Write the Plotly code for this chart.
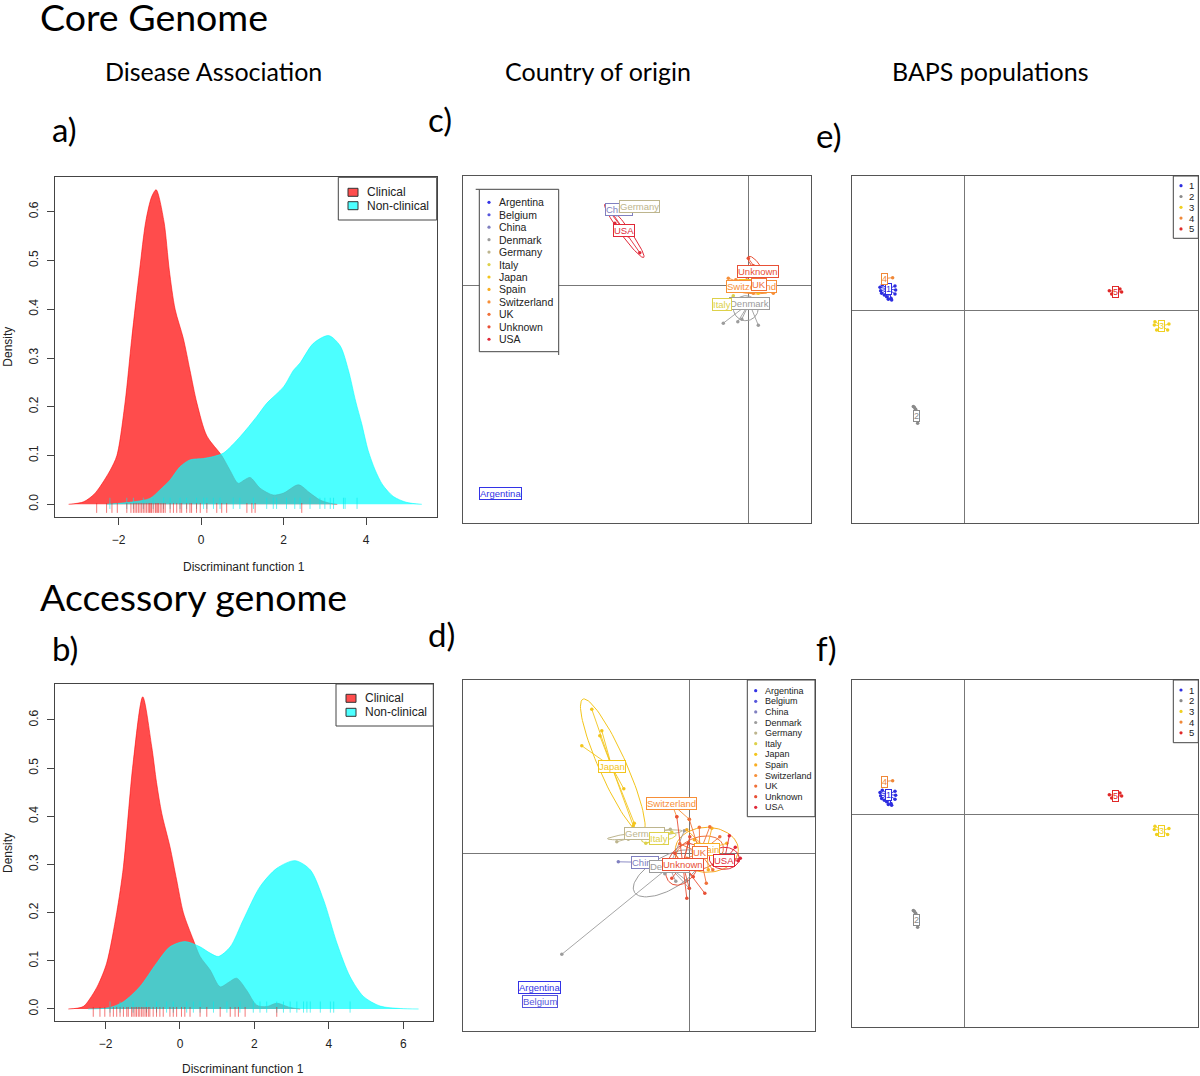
import numpy as np
import plotly.graph_objects as go

W, H = 1200, 1076

# ---------------- Data ----------------
# Panel a: core genome, density of discriminant function 1
a_clin_x = [-3.21, -2.85, -2.6, -2.45, -2.2, -2.04, -1.84, -1.68, -1.49, -1.34, -1.2, -1.09, -0.9, -0.77, -0.63,
            -0.43, -0.27, -0.1, 0.14, 0.5, 0.7, 0.9, 1.05, 1.19, 1.43, 1.75, 2.0, 2.36, 2.64, 2.88, 3.13, 3.3]
a_clin_y = [0, 0.005, 0.02, 0.036, 0.07, 0.1, 0.21, 0.34, 0.48, 0.58, 0.63, 0.645, 0.58, 0.48, 0.4,
            0.34, 0.275, 0.207, 0.14, 0.1, 0.07, 0.043, 0.05, 0.055, 0.033, 0.019, 0.023, 0.04, 0.023, 0.009, 0.002, 0]
a_non_x = [-2.29, -1.64, -1.24, -0.99, -0.75, -0.51, -0.27, 0.06, 0.3, 0.54, 0.95, 1.35, 1.59, 2.0, 2.24, 2.4,
           2.72, 3.09, 3.37, 3.57, 3.75, 3.89, 4.05, 4.22, 4.4, 4.66, 4.98, 5.35]
a_non_y = [0, 0.005, 0.012, 0.03, 0.05, 0.077, 0.091, 0.094, 0.098, 0.105, 0.139, 0.18, 0.207, 0.241, 0.275, 0.29,
           0.33, 0.346, 0.325, 0.275, 0.21, 0.166, 0.11, 0.07, 0.04, 0.016, 0.004, 0]
a_rug_clin = [-2.53, -2.29, -2.16, -2.03, -1.8, -1.7, -1.64, -1.6, -1.56, -1.52, -1.48, -1.44, -1.4, -1.36, -1.32,
              -1.28, -1.25, -1.22, -1.2, -1.16, -1.11, -1.09, -1.06, -1.03, -0.99, -0.95, -0.91, -0.87, -0.75,
              -0.67, -0.59, -0.51, -0.47, -0.35, -0.27, -0.23, -0.11, -0.02, 0.14, 0.38, 0.5, 0.62, 1.11, 1.23,
              1.31, 2.44]
a_rug_non = [-2.21, -1.8, -1.64, -1.4, -1.16, -0.91, -0.75, -0.51, -0.35, -0.11, 0.06, 0.14, 0.3, 0.46, 0.78,
             0.94, 1.27, 1.59, 1.75, 1.83, 2.07, 2.27, 2.4, 2.64, 2.88, 3.0, 3.13, 3.21, 3.45, 3.49, 3.78]

# Panel b: accessory genome
b_clin_x = [-3.0, -2.6, -2.38, -2.2, -1.97, -1.7, -1.52, -1.26, -1.0, -0.76, -0.63, -0.49, -0.27, -0.09, 0.09,
            0.36, 0.54, 0.81, 1.08, 1.3, 1.52, 1.79, 2.06, 2.33, 2.6, 2.96, 3.23]
b_clin_y = [0, 0.005, 0.026, 0.05, 0.095, 0.2, 0.295, 0.51, 0.648, 0.545, 0.47, 0.406, 0.337, 0.268, 0.2,
            0.143, 0.109, 0.081, 0.046, 0.055, 0.064, 0.039, 0.008, 0.005, 0.012, 0.003, 0]
b_non_x = [-2.47, -1.88, -1.52, -1.08, -0.63, -0.27, 0.13, 0.54, 0.81, 1.03, 1.35, 1.7, 2.15, 2.6, 3.09, 3.5,
           3.86, 4.22, 4.57, 4.93, 5.38, 5.92, 6.41]
b_non_y = [0, 0.003, 0.015, 0.046, 0.095, 0.129, 0.14, 0.129, 0.116, 0.109, 0.129, 0.185, 0.254, 0.292, 0.308,
           0.289, 0.226, 0.136, 0.067, 0.026, 0.006, 0.001, 0]
b_rug_clin = [-2.33, -2.15, -2.02, -1.88, -1.79, -1.7, -1.61, -1.52, -1.43, -1.39, -1.3, -1.26, -1.21, -1.17,
              -1.12, -1.08, -1.03, -0.99, -0.94, -0.9, -0.85, -0.81, -0.72, -0.63, -0.54, -0.45, -0.27, -0.18,
              -0.09, 0.04, 0.13, 0.27, 0.54, 0.72, 1.08, 1.35, 1.48, 1.57, 1.75, 2.6]
b_rug_non = [-1.88, -1.61, -1.26, -0.9, -0.63, -0.36, -0.18, 0.18, 0.36, 0.54, 0.9, 1.26, 1.61, 1.97, 2.15,
             2.33, 2.6, 2.78, 2.96, 3.14, 3.32, 3.41, 3.5, 3.77, 4.04, 4.13, 4.57]

density_legend = ["Clinical", "Non-clinical"]

# Countries and colours
countries = ["Argentina", "Belgium", "China", "Denmark", "Germany", "Italy", "Japan", "Spain",
             "Switzerland", "UK", "Unknown", "USA"]
country_colors = ["#3333e6", "#5656dc", "#8080c0", "#9c9c9c", "#bdb58e", "#ddd14a", "#f3c51c", "#f8ad22",
                  "#f78f38", "#f07038", "#e85036", "#e02838"]

# Panel c: DAPC by country (core genome) - group label positions and member points
c_label_order = ["Belgium", "Argentina", "China", "Denmark", "Germany", "Italy", "Japan", "Spain",
                 "Switzerland", "UK", "Unknown", "USA"]
c_label_pos = {"Argentina": (-4.95, -4.15), "Belgium": (-4.95, -4.15), "China": (-2.59, 1.52),
               "Denmark": (0.02, -0.35), "Germany": (-2.17, 1.59), "Italy": (-0.53, -0.37),
               "Japan": (0.1, 0.0), "Spain": (0.15, -0.02), "Switzerland": (0.07, -0.02),
               "UK": (0.21, 0.03), "Unknown": (0.19, 0.28), "USA": (-2.48, 1.1)}
c_points = {
    "Argentina": [(-4.95, -4.15)],
    "Belgium": [(-4.95, -4.15)],
    "China": [(-2.63, 1.42), (-2.55, 1.62)],
    "Denmark": [(-0.5, -0.75), (-0.21, -0.72), (-0.13, -0.67), (0.2, -0.79), (0.0, -0.3), (0.1, -0.45)],
    "Germany": [(-2.17, 1.59)],
    "Italy": [(-0.53, -0.37), (-0.3, -0.2)],
    "Japan": [(0.05, -0.05), (0.2, -0.15)],
    "Spain": [(0.2, -0.05), (-0.1, 0.05), (0.35, -0.12)],
    "Switzerland": [(-0.4, 0.15), (0.5, -0.15), (0.3, -0.1), (-0.2, -0.1), (0.1, -0.15), (-0.25, 0.12)],
    "UK": [(0.3, 0.0), (0.15, -0.1), (0.4, 0.05), (0.05, 0.08)],
    "Unknown": [(0.0, 0.55), (0.3, 0.25), (0.1, 0.4), (0.25, 0.05), (-0.1, 0.1)],
    "USA": [(-2.8, 1.57), (-2.67, 1.25), (-2.17, 0.66), (-2.75, 1.45), (-2.4, 1.0)],
}
c_ellipses = [("Denmark", -0.05, -0.45, 0.25, 0.25, 0), ("Switzerland", 0.05, -0.02, 0.45, 0.14, -5),
              ("Spain", 0.12, -0.04, 0.3, 0.1, 0), ("UK", 0.22, -0.02, 0.22, 0.09, 10),
              ("Unknown", 0.13, 0.43, 0.2, 0.07, -50), ("USA", -2.48, 1.1, 0.66, 0.09, -54)]

# Panel d: DAPC by country (accessory genome)
d_label_order = countries
d_label_pos = {"Argentina": (-2.99, -2.68), "Belgium": (-2.99, -2.97), "China": (-0.89, -0.18),
               "Denmark": (-0.4, -0.27), "Germany": (-0.89, 0.39), "Italy": (-0.61, 0.3),
               "Japan": (-1.55, 1.73), "Spain": (0.35, 0.08), "Switzerland": (-0.35, 0.99),
               "UK": (0.21, 0.01), "Unknown": (-0.13, -0.22), "USA": (0.7, -0.15)}
d_points = {
    "Argentina": [(-2.99, -2.68)],
    "Belgium": [(-2.99, -2.97)],
    "China": [(-1.42, -0.17), (-0.36, -0.19)],
    "Denmark": [(-2.55, -2.02), (-0.49, -0.41), (-0.27, -0.56), (-0.2, -0.25), (0.0, -0.7), (-0.05, -0.55),
                (-0.1, 0.45)],
    "Germany": [(-1.45, 0.23), (-1.22, 0.28), (-0.76, 0.48), (-0.38, 0.48), (-0.65, 0.47)],
    "Italy": [(-0.35, 0.42), (-0.87, 0.2), (-0.6, 0.35)],
    "Japan": [(-1.95, 2.88), (-1.75, 2.45), (-1.79, 2.35), (-2.15, 2.15), (-1.31, 1.29), (-1.12, 0.55),
              (-1.1, 0.6)],
    "Spain": [(-0.05, 0.47), (0.68, -0.07), (0.38, -0.33), (0.75, 0.2), (0.1, 0.27), (0.45, 0.5)],
    "Switzerland": [(-0.25, 0.73), (0.0, 0.68), (-0.45, 0.95)],
    "UK": [(0.2, 0.52), (0.41, 0.53), (0.61, 0.33), (0.47, -0.33), (-0.19, 0.19), (0.34, -0.6), (0.08, 0.03),
           (0.0, 0.68), (-0.05, -0.1)],
    "Unknown": [(-0.29, 0.0), (0.0, -0.7), (-0.19, -0.33), (0.08, -0.47), (0.31, -0.8), (0.01, 0.33),
                (0.14, -0.07), (-0.05, -0.9), (-0.35, -0.5), (-0.25, 0.73), (-0.02, 0.2)],
    "USA": [(0.98, -0.15), (0.8, 0.35), (0.92, 0.12), (0.6, -0.12), (0.49, -0.23), (1.02, -0.1)],
}
d_ellipses = [("Denmark", -0.45, -0.4, 0.75, 0.33, 30), ("Germany", -0.89, 0.37, 0.75, 0.06, 6),
              ("Italy", -0.61, 0.31, 0.35, 0.08, 10), ("Japan", -1.53, 1.74, 1.47, 0.27, -66),
              ("Spain", 0.35, 0.07, 0.63, 0.45, 0), ("UK", 0.2, 0.0, 0.5, 0.32, 20),
              ("Unknown", -0.13, -0.22, 0.45, 0.3, 60), ("USA", 0.7, -0.1, 0.3, 0.22, 0)]

# Panels e/f: DAPC by BAPS population
baps = ["1", "2", "3", "4", "5"]
baps_colors = ["#2d2de0", "#8a8a8a", "#f0d020", "#f08838", "#e02828"]
e_label_pos = {"1": (-1.52, 0.42), "2": (-0.95, -2.12), "3": (3.95, -0.32), "4": (-1.59, 0.63),
               "5": (3.03, 0.37)}
e_points = {
    "1": [(-1.686, 0.453), (-1.673, 0.387), (-1.653, 0.333), (-1.6, 0.3), (-1.553, 0.267), (-1.52, 0.213),
          (-1.466, 0.233), (-1.386, 0.48), (-1.373, 0.4), (-1.386, 0.32), (-1.64, 0.5), (-1.453, 0.2)],
    "2": [(-1.0, -1.947), (-0.973, -1.987), (-0.933, -2.267), (-1.02, -1.93)],
    "3": [(3.8, -0.3), (4.093, -0.28), (3.847, -0.4), (4.067, -0.4), (3.813, -0.233)],
    "4": [(-1.433, 0.647), (-1.6, 0.63)],
    "5": [(2.9, 0.387), (3.147, 0.36), (2.947, 0.32), (3.113, 0.42)],
}
f_label_pos = {"1": (-1.52, 0.39), "2": (-0.95, -2.12), "3": (3.95, -0.33), "4": (-1.6, 0.65),
               "5": (3.03, 0.37)}
f_points = {
    "1": [(-1.686, 0.43), (-1.673, 0.363), (-1.653, 0.31), (-1.6, 0.277), (-1.553, 0.243), (-1.52, 0.19),
          (-1.466, 0.21), (-1.386, 0.457), (-1.373, 0.377), (-1.386, 0.297), (-1.64, 0.477), (-1.453, 0.177)],
    "2": [(-1.0, -1.947), (-0.973, -1.987), (-0.933, -2.267), (-1.02, -1.93)],
    "3": [(3.8, -0.31), (4.093, -0.29), (3.847, -0.41), (4.067, -0.41), (3.813, -0.243)],
    "4": [(-1.433, 0.667), (-1.6, 0.65)],
    "5": [(2.9, 0.387), (3.147, 0.36), (2.947, 0.32), (3.113, 0.42)],
}

# ---------------- Helpers ----------------
def fx(x):
    return x / W

def fy(y):
    return 1 - y / H

RFONT = "Liberation Sans, Arial, sans-serif"
HFONT = "Lato, Open Sans, sans-serif"

fig = go.Figure()
shapes = []
annotations = []

domains = {
    "a": ((55, 436.7), (177.3, 516.7)),
    "b": ((55, 433.3), (684, 1020.7)),
    "c": ((463.3, 810.7), (176, 522.7)),
    "d": ((463.3, 815), (680, 1030.7)),
    "e": ((851.7, 1198.3), (176, 522.7)),
    "f": ((851.7, 1198.3), (680, 1026.7)),
}
axis_ids = {"a": "", "b": "2", "c": "3", "d": "4", "e": "5", "f": "6"}
ranges = {
    "a": ((-3.54, 5.71), (-0.0254, 0.6705)),
    "b": ((-3.358, 6.806), (-0.0243, 0.6747)),
    "c": ((-5.70, 1.248), (-4.74, 2.194)),
    "d": ((-4.52, 2.514), (-3.548, 3.466)),
    "e": ((-2.252, 4.68), (-4.254, 2.68)),
    "f": ((-2.252, 4.68), (-4.254, 2.68)),
}

layout_axes = {}
for p, ((x0, x1), (y0, y1)) in domains.items():
    k = axis_ids[p]
    xr, yr = ranges[p]
    dens = p in ("a", "b")
    xa = dict(domain=[fx(x0), fx(x1)], range=list(xr), showgrid=False, showline=True, mirror=True,
              linecolor="#444" if dens else "#555", linewidth=1, anchor="y" + k, fixedrange=True)
    ya = dict(domain=[fy(y1), fy(y0)], range=list(yr), showgrid=False, showline=True, mirror=True,
              linecolor="#444" if dens else "#555", linewidth=1, anchor="x" + k, fixedrange=True)
    if dens:
        xa.update(ticks="outside", ticklen=7, tickcolor="#444", tickwidth=1, zeroline=False,
                  tickvals=[-2, 0, 2, 4] if p == "a" else [-2, 0, 2, 4, 6],
                  tickfont=dict(family=RFONT, size=12, color="#222"), ticklabelstandoff=5)
        ya.update(ticks="outside", ticklen=7, tickcolor="#444", tickwidth=1, zeroline=False,
                  tickvals=[0, 0.1, 0.2, 0.3, 0.4, 0.5, 0.6],
                  ticktext=["0.0", "0.1", "0.2", "0.3", "0.4", "0.5", "0.6"],
                  tickangle=-90, tickfont=dict(family=RFONT, size=12, color="#222"), ticklabelstandoff=4)
    else:
        xa.update(showticklabels=False, ticks="", zeroline=True, zerolinecolor="#777", zerolinewidth=1)
        ya.update(showticklabels=False, ticks="", zeroline=True, zerolinecolor="#777", zerolinewidth=1)
    layout_axes["xaxis" + k] = xa
    layout_axes["yaxis" + k] = ya

RED_F = "rgba(255,0,0,0.7)"
CYAN_F = "rgba(0,255,255,0.7)"

# ---------------- Density panels ----------------
def density_panel(k, cx, cy, nx, ny, rug_c, rug_n, rc_y, rn_y):
    xa, ya = "x" + k, "y" + k
    fig.add_trace(go.Scatter(x=cx, y=cy, mode="lines", line=dict(color=RED_F, width=0.8, shape="spline",
                             smoothing=0.8), fill="tozeroy", fillcolor=RED_F, xaxis=xa, yaxis=ya,
                             showlegend=False, hoverinfo="skip"))
    fig.add_trace(go.Scatter(x=nx, y=ny, mode="lines", line=dict(color=CYAN_F, width=0.8, shape="spline",
                             smoothing=0.8), fill="tozeroy", fillcolor=CYAN_F, xaxis=xa, yaxis=ya,
                             showlegend=False, hoverinfo="skip"))
    fig.add_trace(go.Scatter(x=rug_n, y=[rn_y] * len(rug_n), mode="markers",
                             marker=dict(symbol="line-ns", size=8, line=dict(width=1, color="rgba(0,235,235,0.6)")),
                             xaxis=xa, yaxis=ya, showlegend=False, hoverinfo="skip"))
    fig.add_trace(go.Scatter(x=rug_c, y=[rc_y] * len(rug_c), mode="markers",
                             marker=dict(symbol="line-ns", size=7, line=dict(width=1, color="rgba(235,30,30,0.6)")),
                             xaxis=xa, yaxis=ya, showlegend=False, hoverinfo="skip"))

density_panel("", a_clin_x, a_clin_y, a_non_x, a_non_y, a_rug_clin, a_rug_non, -0.0075, 0.002)
density_panel("2", b_clin_x, b_clin_y, b_non_x, b_non_y, b_rug_clin, b_rug_non, -0.006, 0.004)

def density_legend_box(bx0, bx1, by0, by1, sx0, ycs, tx):
    shapes.append(dict(type="rect", xref="paper", yref="paper", x0=fx(bx0), x1=fx(bx1), y0=fy(by1), y1=fy(by0),
                       line=dict(color="#444", width=1), fillcolor="white", layer="above"))
    for lab, col, yc in zip(density_legend, ["#ff4d4d", "#4dffff"], ycs):
        shapes.append(dict(type="rect", xref="paper", yref="paper", x0=fx(sx0), x1=fx(sx0 + 10),
                           y0=fy(yc + 4), y1=fy(yc - 4), line=dict(color="#333", width=1), fillcolor=col,
                           layer="above"))
        annotations.append(dict(text=lab, x=fx(tx), y=fy(yc), xref="paper", yref="paper", xanchor="left",
                                yanchor="middle", showarrow=False, font=dict(family=RFONT, size=12, color="#222")))

density_legend_box(338.3, 436.7, 177.3, 220, 348, [192.3, 205.7], 365)
density_legend_box(336, 433.3, 684, 726, 346, [698.3, 712.3], 363)

# axis titles of density panels
for (tx, ty) in [(244.3, 566.7), (242.7, 1069)]:
    annotations.append(dict(text="Discriminant function 1", x=fx(tx), y=fy(ty), xref="paper", yref="paper",
                            xanchor="center", yanchor="middle", showarrow=False,
                            font=dict(family=RFONT, size=12, color="#222")))
for (tx, ty) in [(8, 346.7), (8, 853)]:
    annotations.append(dict(text="Density", x=fx(tx), y=fy(ty), xref="paper", yref="paper", textangle=-90,
                            xanchor="center", yanchor="middle", showarrow=False,
                            font=dict(family=RFONT, size=12, color="#222")))

# ---------------- DAPC scatter panels ----------------
def ellipse(cx, cy, a, b, ang, n=90):
    t = np.linspace(0, 2 * np.pi, n)
    ca, sa = np.cos(np.radians(ang)), np.sin(np.radians(ang))
    return cx + a * np.cos(t) * ca - b * np.sin(t) * sa, cy + a * np.cos(t) * sa + b * np.sin(t) * ca

def dapc_panel(k, groups, colors, label_pos, points, ellipses, label_order, fsize):
    xa, ya = "x" + k, "y" + k
    cmap = dict(zip(groups, colors))
    for g, cx, cy, a, b, ang in ellipses:
        ex, ey = ellipse(cx, cy, a, b, ang)
        fig.add_trace(go.Scatter(x=ex, y=ey, mode="lines", line=dict(color=cmap[g], width=1),
                                 xaxis=xa, yaxis=ya, showlegend=False, hoverinfo="skip"))
    for g in groups:
        pts = points.get(g, [])
        lx, ly = label_pos[g]
        sx, sy = [], []
        for (px_, py_) in pts:
            sx += [lx, px_, None]
            sy += [ly, py_, None]
        fig.add_trace(go.Scatter(x=sx, y=sy, mode="lines", line=dict(color=cmap[g], width=0.9),
                                 xaxis=xa, yaxis=ya, showlegend=False, hoverinfo="skip"))
        fig.add_trace(go.Scatter(x=[p[0] for p in pts], y=[p[1] for p in pts], mode="markers",
                                 marker=dict(color=cmap[g], size=3.5), xaxis=xa, yaxis=ya,
                                 showlegend=False, hoverinfo="skip"))
    for g in label_order:
        lx, ly = label_pos[g]
        annotations.append(dict(text=g, x=lx, y=ly, xref=xa, yref=ya, showarrow=False, bgcolor="white",
                                xanchor="center", yanchor="middle",
                                bordercolor=cmap[g], borderwidth=1, borderpad=0,
                                font=dict(family=RFONT, size=fsize, color=cmap[g])))

dapc_panel("3", countries, country_colors, c_label_pos, c_points, c_ellipses, c_label_order, 9.5)
dapc_panel("4", countries, country_colors, d_label_pos, d_points, d_ellipses, d_label_order, 9.5)
dapc_panel("5", baps, baps_colors, e_label_pos, e_points, [], baps, 9)
dapc_panel("6", baps, baps_colors, f_label_pos, f_points, [], baps, 9)

def dot_legend(names, colors, bx0, bx1, by0, by1, dotx, textx, y0, step, fsize):
    shapes.append(dict(type="rect", xref="paper", yref="paper", x0=fx(bx0), x1=fx(bx1), y0=fy(by1), y1=fy(by0),
                       line=dict(color="#444", width=1), fillcolor="white", layer="above"))
    for i, (n, c) in enumerate(zip(names, colors)):
        yc = y0 + i * step
        shapes.append(dict(type="circle", xref="paper", yref="paper", x0=fx(dotx - 1.6), x1=fx(dotx + 1.6),
                           y0=fy(yc + 1.6), y1=fy(yc - 1.6), line=dict(width=0), fillcolor=c, layer="above"))
        annotations.append(dict(text=n, x=fx(textx), y=fy(yc), xref="paper", yref="paper", xanchor="left",
                                yanchor="middle", showarrow=False, font=dict(family=RFONT, size=fsize, color="#222")))

dot_legend(countries, country_colors, 479.3, 558.7, 189.3, 351.7, 489, 497, 202.3, 12.45, 10.5)
# small extensions of the legend frame (as in the original R output)
shapes.append(dict(type="line", xref="paper", yref="paper", x0=fx(475.7), x1=fx(479.3), y0=fy(189.3),
                   y1=fy(189.3), line=dict(color="#444", width=1), layer="above"))
shapes.append(dict(type="line", xref="paper", yref="paper", x0=fx(558.7), x1=fx(558.7), y0=fy(351.7),
                   y1=fy(355), line=dict(color="#444", width=1), layer="above"))
dot_legend(countries, country_colors, 747.3, 815, 680, 816.7, 755.7, 762.5, 690.7, 10.6, 9)
dot_legend(baps, baps_colors, 1173.3, 1198.3, 176, 238.3, 1181, 1186.5, 185.7, 10.8, 9.5)
dot_legend(baps, baps_colors, 1173.3, 1198.3, 680, 742.7, 1181, 1186.5, 690, 10.7, 9.5)

# ---------------- Headings ----------------
def head(text, x, y, size, anchor="left"):
    annotations.append(dict(text=text, x=fx(x), y=fy(y), xref="paper", yref="paper", xanchor=anchor,
                            yanchor="middle", showarrow=False, font=dict(family=HFONT, size=size, color="black")))

head("Core Genome", 38, 16, 37.5)
head("Accessory genome", 38, 596, 37.5)
head("Disease Association", 213.5, 71, 25, "center")
head("Country of origin", 598, 71, 25, "center")
head("BAPS populations", 990, 71, 25, "center")
head("a)", 50, 129, 33)
head("c)", 426, 119, 33)
head("e)", 814, 135, 33)
head("b)", 50, 648, 33)
head("d)", 426, 634, 33)
head("f)", 814, 648, 33)

fig.update_layout(width=W, height=H, margin=dict(l=0, r=0, t=0, b=0), paper_bgcolor="white",
                  plot_bgcolor="white", showlegend=False, shapes=shapes, annotations=annotations,
                  **layout_axes)
fig.write_html("out.html", config={"displayModeBar": False},
               post_script="document.body.style.margin='0';document.body.style.overflow='hidden';")
